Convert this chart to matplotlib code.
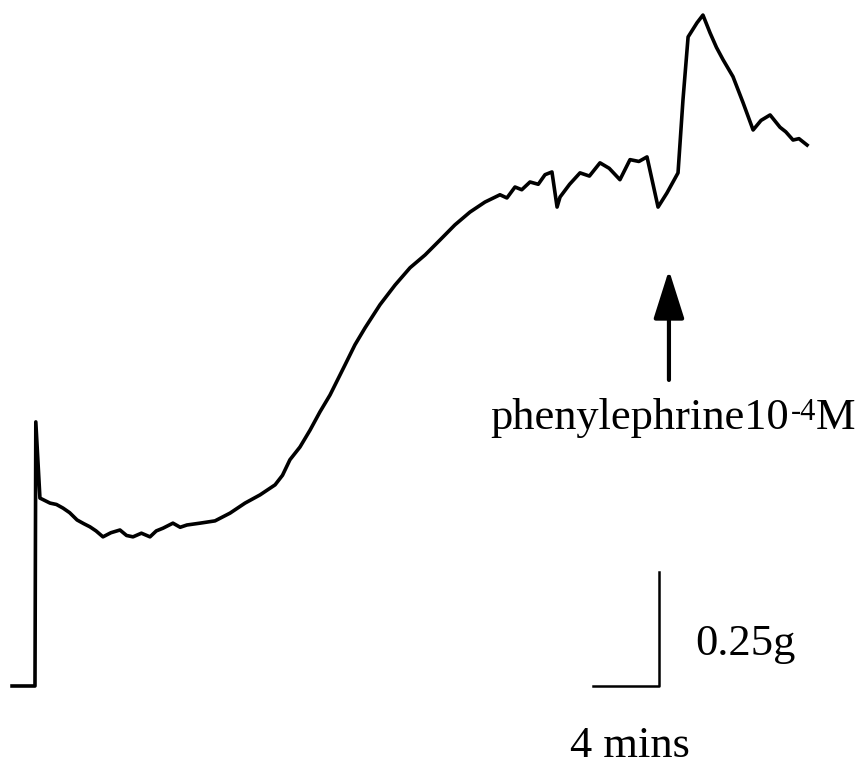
import matplotlib.pyplot as plt

# trace: time in minutes, tension in g above baseline
time_min = [
    -1.39, 0.0, 0.05, 0.30, 0.91, 1.30, 1.70, 2.10, 2.55, 2.95, 3.33, 3.70,
    4.12, 4.60, 5.15, 5.55, 5.94, 6.45, 6.97, 7.35, 7.76, 8.36, 8.80, 9.21,
    10.00, 10.91, 11.82, 12.73, 13.64, 14.55, 15.00, 15.45, 16.06, 16.67,
    17.27, 17.88, 18.79, 19.39, 20.00, 20.91, 21.82, 22.73, 23.64, 24.55,
    25.45, 26.36, 27.27, 28.18, 28.60, 29.09, 29.50, 30.00, 30.50, 30.91,
    31.33, 31.64, 31.82, 32.40, 33.03, 33.60, 34.24, 34.80, 35.45, 36.06,
    36.60, 37.09, 37.76, 38.30, 38.97, 39.27, 39.58, 40.12, 40.48, 40.91,
    41.30, 41.70, 42.30, 42.91, 43.52, 44.00, 44.55, 45.15, 45.50, 45.94,
    46.30, 46.79,
]
tension_g = [
    0.0, 0.0, 0.579, 0.412, 0.401, 0.398, 0.390, 0.380, 0.364, 0.356, 0.349,
    0.340, 0.327, 0.336, 0.342, 0.330, 0.327, 0.335, 0.327, 0.340, 0.346,
    0.357, 0.348, 0.353, 0.357, 0.362, 0.379, 0.401, 0.419, 0.441, 0.462,
    0.496, 0.524, 0.561, 0.601, 0.638, 0.704, 0.748, 0.785, 0.836, 0.879,
    0.917, 0.945, 0.978, 1.011, 1.039, 1.061, 1.077, 1.070, 1.094, 1.088,
    1.105, 1.100, 1.121, 1.127, 1.050, 1.072, 1.100, 1.125, 1.118, 1.147,
    1.135, 1.110, 1.154, 1.150, 1.160, 1.050, 1.081, 1.125, 1.285, 1.423,
    1.454, 1.471, 1.432, 1.400, 1.373, 1.336, 1.279, 1.219, 1.240, 1.252,
    1.225, 1.215, 1.197, 1.200, 1.186,
]

# calibration bars
bar_time = 4.0      # mins
bar_tension = 0.25  # g
bar_t0 = 33.8
arrow_t = 38.42
arrow_from, arrow_to = 0.671, 0.912

plt.rcParams['font.family'] = ['Liberation Serif', 'DejaVu Serif']

fig = plt.figure(figsize=(8.63, 7.67), dpi=100)
ax = fig.add_axes([0, 0, 1, 1])
ax.set_xlim(-2.12, 50.18)
ax.set_ylim(-0.1776, 1.504)
ax.axis('off')

ax.plot(time_min, tension_g, color='black', lw=2.6, solid_joinstyle='round')

# scale bars
bar_t1 = bar_t0 + bar_time
ax.plot([bar_t0, bar_t1, bar_t1], [0, 0, bar_tension], color='black', lw=1.8)
ax.text(bar_t1 + 2.2, 0.093, '0.25g', fontsize=32, va='center', ha='left')
ax.text(bar_t0 - 1.4, -0.132, '4 mins', fontsize=32, va='center', ha='left')

# drug application marker
ax.annotate('', xy=(arrow_t, arrow_to), xytext=(arrow_t, arrow_from),
            arrowprops=dict(arrowstyle='-|>,head_length=3.0,head_width=0.95',
                            color='black', lw=3, shrinkA=0, shrinkB=0))
label = ax.text(27.6, 0.588, 'phenylephrine10', fontsize=32,
                va='center', ha='left')
sup = ax.annotate('-4', xy=(1, 1), xycoords=label, xytext=(1, 0),
                  textcoords='offset points', fontsize=22, va='top', ha='left')
ax.annotate('M', xy=(1, 0), xycoords=(sup, label), xytext=(0, 0),
            textcoords='offset points', fontsize=32, va='bottom', ha='left')

fig.savefig('out.png', dpi=100)
plt.close(fig)
